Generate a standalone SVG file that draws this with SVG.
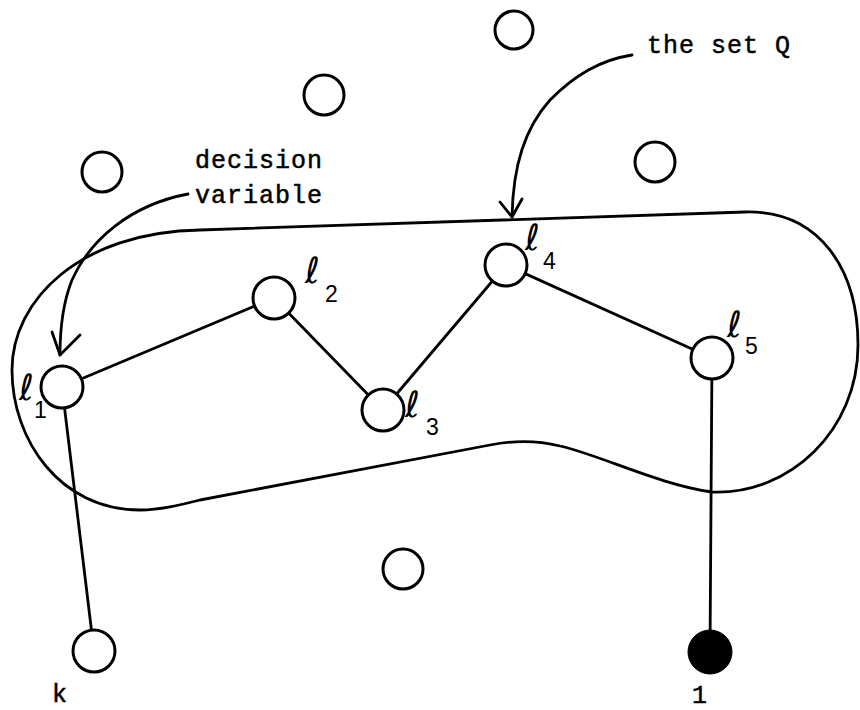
<svg xmlns="http://www.w3.org/2000/svg" width="860" height="710" viewBox="0 0 860 710">
<style>
.ln{stroke:#000;stroke-width:2.8;fill:none;stroke-linecap:round;stroke-linejoin:round}
.nd{stroke:#000;stroke-width:3;fill:#fff}
.mono{font-family:"Liberation Mono",monospace;font-size:25px;letter-spacing:1px;fill:#000;stroke:#000;stroke-width:0.5}
.ell{font-family:"DejaVu Sans",sans-serif;font-size:36px;fill:#000}
.sub{font-family:"Liberation Sans",sans-serif;font-size:23px;fill:#000}
</style>
<rect width="860" height="710" fill="#fff"/>
<g id="setQ">
<path class="ln" d="M200 230 L745 212 C820 210 858 270 858 345 C858 430 790 495 712 492 C660 485 600 455 560 446 C540 441 515 440 490 445 L200 500 C180 505 160 510 140 510 C60 510 12 440 12 370 C12 300 80 232 200 230 Z"/>
</g>
<g id="connectors">
<line class="ln" x1="62" y1="387" x2="274" y2="298"/>
<line class="ln" x1="274" y1="298" x2="383" y2="410"/>
<line class="ln" x1="383" y1="410" x2="506" y2="265"/>
<line class="ln" x1="506" y1="265" x2="712" y2="358"/>
<line class="ln" x1="62" y1="387" x2="94" y2="651"/>
<line class="ln" x1="712" y1="358" x2="710" y2="652"/>
<path class="ln" d="M188 194 C130 205 90 240 72 280 C62 305 60 330 60 355"/>
<path class="ln" d="M52 332 L60 355 L80 335"/>
<path class="ln" d="M632 55 C600 60 575 75 550 100 C525 128 513 165 512 217"/>
<path class="ln" d="M500 202 L512 217 L522 199"/>
</g>
<g id="n_top"><circle class="nd" cx="514" cy="30" r="19"/></g>
<g id="n_a"><circle class="nd" cx="324" cy="95" r="20"/></g>
<g id="n_b"><circle class="nd" cx="102" cy="172" r="20"/></g>
<g id="n_c"><circle class="nd" cx="655" cy="162" r="20"/></g>
<g id="n_mid"><circle class="nd" cx="403" cy="569" r="20"/></g>
<g id="l1"><circle class="nd" cx="62" cy="387" r="21"/><text class="ell" x="19" y="400">ℓ</text><text class="sub" x="34" y="418">1</text></g>
<g id="l2"><circle class="nd" cx="274" cy="298" r="21"/><text class="ell" x="305" y="283">ℓ</text><text class="sub" x="325" y="302">2</text></g>
<g id="l3"><circle class="nd" cx="383" cy="410" r="21"/><text class="ell" x="405" y="417">ℓ</text><text class="sub" x="426" y="435">3</text></g>
<g id="l4"><circle class="nd" cx="506" cy="265" r="21"/><text class="ell" x="525" y="250">ℓ</text><text class="sub" x="543" y="269">4</text></g>
<g id="l5"><circle class="nd" cx="712" cy="358" r="21"/><text class="ell" x="727" y="337">ℓ</text><text class="sub" x="745" y="354">5</text></g>
<g id="k"><circle class="nd" cx="94" cy="651" r="21"/><text class="mono" x="52" y="702">k</text></g>
<g id="one"><circle cx="710" cy="652" r="22" fill="#000" stroke="#000" stroke-width="1"/><text class="mono" x="692" y="703">1</text></g>
<g id="labels">
<text class="mono" x="195" y="168">decision</text>
<text class="mono" x="195" y="203">variable</text>
<text class="mono" x="647" y="53">the set Q</text>
</g>
</svg>
